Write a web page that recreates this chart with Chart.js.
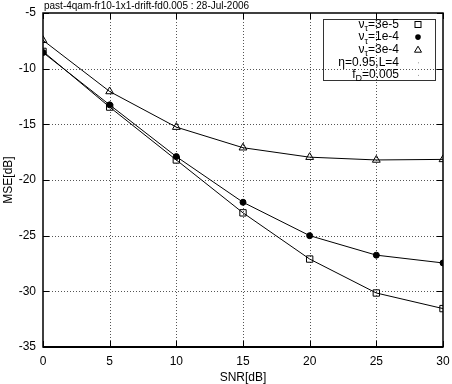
<!DOCTYPE html>
<html>
<head>
<meta charset="utf-8">
<script src="https://cdn.jsdelivr.net/npm/chart.js@4.4.0/dist/chart.umd.min.js"></script>
<style>
  html, body { margin: 0; padding: 0; background: #fff; }
  #wrap { width: 452px; height: 384px; }
</style>
</head>
<body>
<div id="wrap"><canvas id="mse"></canvas></div>
<script>
const snr = [0, 5, 10, 15, 20, 25, 30];
const mse3e5 = [-8.45, -13.45, -18.2, -22.95, -27.1, -30.15, -31.55];
const mse1e4 = [-8.55, -13.25, -17.9, -22.0, -25.0, -26.75, -27.45];
const mse3e4 = [-7.45, -12.05, -15.25, -17.1, -17.95, -18.2, -18.15];
const xTicks = [0, 5, 10, 15, 20, 25, 30];
const yTicks = [-35, -30, -25, -20, -15, -10, -5];
const titleText = "past-4qam-fr10-1x1-drift-fd0.005 : 28-Jul-2006";

const FONT = "'Liberation Sans', Arial, sans-serif";

const toXY = (ys) => ys.map((y, i) => ({ x: snr[i], y }));

// dotted grid under the data
const grid = {
  id: "dotgrid",
  beforeDatasetsDraw(chart) {
    const { ctx, chartArea: a, scales } = chart;
    ctx.save();
    ctx.strokeStyle = "#555";
    ctx.lineWidth = 1;
    ctx.setLineDash([1, 2]);
    ctx.beginPath();
    for (const v of xTicks.slice(1, -1)) {
      const px = Math.round(scales.x.getPixelForValue(v)) + 0.5;
      ctx.moveTo(px, a.top); ctx.lineTo(px, a.bottom);
    }
    for (const v of yTicks.slice(1, -1)) {
      const py = Math.round(scales.y.getPixelForValue(v)) + 0.5;
      ctx.moveTo(a.left, py); ctx.lineTo(a.right, py);
    }
    ctx.stroke();
    ctx.restore();
  }
};

// inner tick marks on all four sides, title, axis titles and the boxed legend
const decor = {
  id: "decor",
  afterDraw(chart) {
    const { ctx, chartArea: a, scales } = chart;
    const xs = scales.x, ys = scales.y;
    ctx.save();
    ctx.strokeStyle = "#000";
    ctx.lineWidth = 1;
    ctx.beginPath();
    for (const v of xTicks) {
      const px = Math.round(xs.getPixelForValue(v)) + 0.5;
      ctx.moveTo(px, a.bottom); ctx.lineTo(px, a.bottom - 6);
      ctx.moveTo(px, a.top); ctx.lineTo(px, a.top + 6);
    }
    for (const v of yTicks) {
      const py = Math.round(ys.getPixelForValue(v)) + 0.5;
      ctx.moveTo(a.left, py); ctx.lineTo(a.left + 6, py);
      ctx.moveTo(a.right, py); ctx.lineTo(a.right - 6, py);
    }
    ctx.stroke();
    // frame
    ctx.lineWidth = 1.5;
    ctx.strokeRect(a.left, a.top, a.right - a.left, a.bottom - a.top);
    ctx.lineWidth = 2;
    ctx.beginPath();
    ctx.moveTo(a.left, a.bottom); ctx.lineTo(a.right, a.bottom);
    ctx.stroke();

    // title
    ctx.fillStyle = "#000";
    ctx.font = "10px " + FONT;
    ctx.textAlign = "left";
    ctx.textBaseline = "middle";
    ctx.fillText(titleText, 44, 6.5);

    // axis titles
    ctx.font = "12px " + FONT;
    ctx.textAlign = "center";
    ctx.fillText("SNR[dB]", (a.left + a.right) / 2, 378);
    ctx.save();
    ctx.translate(9, 180);
    ctx.rotate(-Math.PI / 2);
    ctx.fillText("MSE[dB]", 0, 0);
    ctx.restore();

    // legend
    ctx.lineWidth = 1;
    ctx.strokeStyle = "#333";
    ctx.strokeRect(323.5, 19.5, 112, 61);
    const rows = [
      { main: "ν", sub: "τ", rest: "=3e-5", mark: "square" },
      { main: "ν", sub: "τ", rest: "=1e-4", mark: "circle" },
      { main: "ν", sub: "τ", rest: "=3e-4", mark: "triangle" },
      { main: "η=0.95,L=4", sub: "", rest: "", mark: "dot" },
      { main: "f", sub: "D", rest: "=0.005", mark: "dot" }
    ];
    const rightX = 399, markX = 418;
    rows.forEach((r, i) => {
      const y = 24.5 + i * 12.6;
      ctx.fillStyle = "#000";
      ctx.font = "12px " + FONT;
      ctx.textAlign = "left";
      ctx.textBaseline = "middle";
      const wMain = ctx.measureText(r.main).width;
      const wRest = ctx.measureText(r.rest).width;
      ctx.font = "9px " + FONT;
      const wSub = r.sub ? ctx.measureText(r.sub).width : 0;
      let x = rightX - wMain - wSub - wRest;
      ctx.font = "12px " + FONT;
      ctx.fillText(r.main, x, y);
      x += wMain;
      if (r.sub) {
        ctx.font = "9px " + FONT;
        ctx.fillText(r.sub, x, y + 4);
        x += wSub;
        ctx.font = "12px " + FONT;
      }
      ctx.fillText(r.rest, x, y);
      // marker
      ctx.strokeStyle = "#000";
      ctx.lineWidth = 1;
      if (r.mark === "square") {
        ctx.strokeRect(markX - 3, y - 3, 6, 6);
      } else if (r.mark === "circle") {
        ctx.beginPath(); ctx.arc(markX, y, 2.8, 0, Math.PI * 2); ctx.fill();
      } else if (r.mark === "triangle") {
        ctx.beginPath();
        ctx.moveTo(markX, y - 3.5); ctx.lineTo(markX + 3.5, y + 2.5); ctx.lineTo(markX - 3.5, y + 2.5);
        ctx.closePath(); ctx.stroke();
      } else {
        ctx.fillStyle = "#999";
        ctx.fillRect(markX, y, 1, 1);
      }
    });
    ctx.restore();
  }
};

const series = (data, style, radius, fill) => ({
  data: toXY(data),
  borderColor: "#000",
  borderWidth: 1,
  pointStyle: style,
  pointRadius: radius,
  pointBackgroundColor: fill,
  pointBorderColor: "#000",
  pointBorderWidth: 1,
  tension: 0,
  fill: false
});

new Chart(document.getElementById("mse"), {
  type: "line",
  data: {
    datasets: [
      series(mse3e5, "rect", 4.5, "rgba(0,0,0,0)"),
      series(mse1e4, "circle", 3, "#000"),
      series(mse3e4, "triangle", 4.5, "rgba(0,0,0,0)")
    ]
  },
  options: {
    responsive: true,
    maintainAspectRatio: false,
    animation: false,
    layout: { padding: { top: 13, right: 9, left: 0, bottom: 0 } },
    plugins: { legend: { display: false }, tooltip: { enabled: false } },
    scales: {
      x: {
        type: "linear",
        min: 0, max: 30,
        afterBuildTicks: (s) => { s.ticks = xTicks.map(v => ({ value: v })); },
        afterFit: (s) => { s.height = 37; s.paddingRight = 0; s.paddingLeft = 0; },
        ticks: { color: "#000", font: { family: FONT, size: 12 }, padding: 7, maxRotation: 0 },
        grid: { display: false, drawTicks: false },
        border: { display: false }
      },
      y: {
        type: "linear",
        min: -35, max: -5,
        afterBuildTicks: (s) => { s.ticks = yTicks.map(v => ({ value: v })); },
        afterFit: (s) => { s.width = 43; s.paddingTop = 0; s.paddingBottom = 0; },
        ticks: { color: "#000", font: { family: FONT, size: 12 }, padding: 7 },
        grid: { display: false, drawTicks: false },
        border: { display: false }
      }
    }
  },
  plugins: [grid, decor]
});
</script>
</body>
</html>
